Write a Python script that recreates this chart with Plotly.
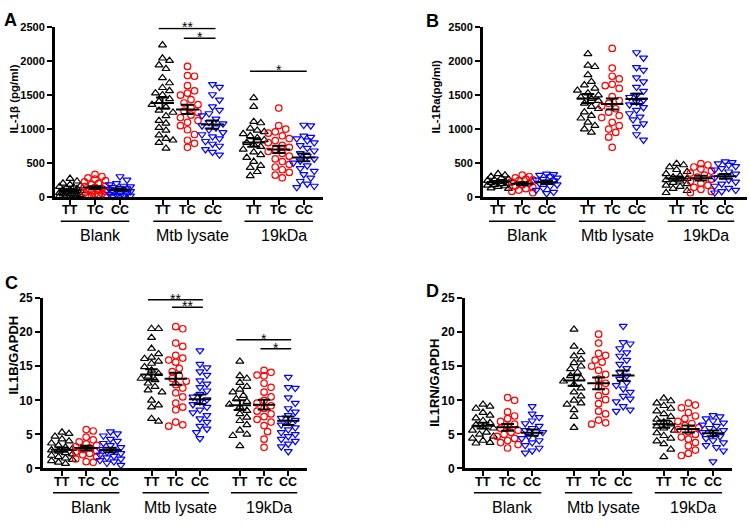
import plotly.graph_objects as go
import numpy as np

# ---------------- data ----------------
genotypes = ["TT", "TC", "CC"]
stimuli = ["Blank", "Mtb lysate", "19kDa"]
panel_letters = ["A", "B", "C", "D"]
y_titles = ["IL-1β (pg/ml)", "IL-1Ra(pg/ml)", "IL1B/GAPDH", "IL1RN/GAPDH"]
y_ticks_ab = [0, 500, 1000, 1500, 2000, 2500]
y_ticks_cd = [0, 5, 10, 15, 20, 25]

# Panel A: IL-1beta (pg/ml)
a_blank_tt = [270, 230, 200, 180, 160, 150, 140, 130, 120, 110, 100, 90, 80, 70, 60, 50, 45, 40, 30, 25, 20, 15, 10, 5]
a_blank_tc = [330, 300, 280, 260, 240, 220, 200, 180, 160, 150, 140, 120, 100, 90, 80, 70, 60, 50, 40, 30, 20, 15, 10]
a_blank_cc = [300, 250, 200, 180, 160, 150, 140, 130, 120, 110, 100, 90, 80, 70, 60, 50, 40, 30, 20, 15, 10, 5]
a_mtb_tt = [2240, 2045, 2010, 1945, 1890, 1755, 1680, 1610, 1565, 1530, 1505, 1445, 1410, 1360, 1325, 1275, 1245, 1195, 1125, 1085, 1020, 980, 910, 860, 835, 800, 715]
a_mtb_tc = [1925, 1790, 1780, 1640, 1565, 1530, 1500, 1435, 1385, 1360, 1315, 1265, 1245, 1205, 1170, 1125, 1100, 1050, 990, 920, 835, 790, 730]
a_mtb_cc = [1660, 1620, 1510, 1430, 1330, 1280, 1230, 1200, 1150, 1100, 1080, 1050, 1020, 990, 950, 920, 890, 860, 820, 780, 750, 700, 660, 620]
a_kda_tt = [1460, 1330, 1110, 1090, 1010, 980, 960, 930, 900, 870, 840, 800, 770, 740, 700, 660, 620, 580, 520, 460, 430, 370, 310]
a_kda_tc = [1310, 1050, 1000, 960, 940, 900, 860, 830, 800, 760, 730, 700, 670, 640, 600, 560, 520, 480, 440, 400, 360, 320, 280]
a_kda_cc = [1060, 1050, 900, 880, 860, 830, 800, 760, 720, 680, 640, 600, 560, 530, 500, 460, 420, 380, 330, 280, 230, 190, 160, 140]

# Panel B: IL-1Ra (pg/ml)
b_blank_tt = [340, 320, 300, 280, 260, 250, 240, 230, 220, 210, 200, 190, 180, 170, 160, 150, 130, 120]
b_blank_tc = [320, 300, 280, 260, 250, 240, 220, 200, 180, 160, 140, 120, 100, 80, 60]
b_blank_cc = [340, 330, 320, 300, 280, 260, 250, 240, 220, 200, 180, 160, 130, 100, 70, 50]
b_mtb_tt = [2110, 1940, 1920, 1800, 1700, 1650, 1600, 1570, 1530, 1500, 1470, 1450, 1420, 1380, 1330, 1300, 1250, 1200, 1160, 1100, 1050, 1000, 950]
b_mtb_tc = [2190, 1900, 1780, 1740, 1660, 1640, 1600, 1480, 1420, 1380, 1340, 1300, 1250, 1200, 1170, 1100, 1050, 1000, 950, 880, 730]
b_mtb_cc = [2130, 2050, 1910, 1870, 1760, 1700, 1620, 1560, 1500, 1470, 1430, 1400, 1360, 1320, 1280, 1230, 1180, 1140, 1080, 1030, 920, 840]
b_kda_tt = [490, 470, 440, 400, 370, 340, 310, 290, 270, 250, 230, 210, 190, 170, 150, 120, 90, 60]
b_kda_tc = [490, 470, 440, 410, 380, 350, 320, 290, 260, 230, 200, 170, 140, 110, 80, 60]
b_kda_cc = [520, 510, 490, 470, 450, 420, 400, 370, 340, 310, 280, 250, 220, 190, 160, 130, 100, 80, 60]

# Panel C: IL1B/GAPDH
c_blank_tt = [5.3, 5.1, 4.7, 4.3, 4.0, 3.7, 3.4, 3.1, 2.9, 2.7, 2.5, 2.3, 2.1, 1.9, 1.7, 1.5, 1.3, 1.1, 0.9, 0.7]
c_blank_tc = [5.7, 5.5, 4.6, 4.2, 3.9, 3.6, 3.4, 3.2, 3.0, 2.8, 2.6, 2.4, 2.2, 2.0, 1.7, 1.4, 1.0, 0.9]
c_blank_cc = [5.4, 5.1, 4.8, 4.3, 4.0, 3.7, 3.4, 3.1, 2.8, 2.6, 2.4, 2.2, 2.0, 1.8, 1.6, 1.4, 1.2, 1.0, 0.8, 0.5]
c_mtb_tt = [20.5, 20.5, 19.2, 17.6, 16.8, 16.3, 16.1, 15.7, 15.4, 14.9, 14.4, 13.9, 13.5, 13.2, 13.0, 12.5, 12.0, 11.5, 11.2, 10.0, 9.3, 9.0, 7.3, 6.9]
c_mtb_tc = [20.8, 20.5, 18.4, 17.9, 16.6, 16.2, 15.9, 15.6, 14.7, 14.2, 13.6, 13.2, 12.8, 12.3, 11.8, 11.1, 10.5, 9.6, 9.0, 8.6, 6.8, 6.4, 6.2]
c_mtb_cc = [17.3, 15.3, 14.8, 14.2, 13.7, 12.9, 12.4, 11.9, 11.4, 10.9, 10.5, 10.1, 9.8, 9.4, 9.0, 8.6, 8.2, 7.8, 7.3, 6.8, 6.2, 5.8, 5.3, 4.4]
c_kda_tt = [15.7, 13.6, 13.2, 12.6, 12.0, 11.6, 11.2, 10.7, 10.2, 9.8, 9.4, 9.0, 8.5, 8.0, 7.5, 7.0, 6.4, 5.6, 5.0, 4.8, 3.3]
c_kda_tc = [14.4, 14.1, 13.7, 13.6, 12.5, 11.9, 11.2, 10.5, 10.0, 9.6, 9.2, 8.8, 8.4, 8.0, 7.6, 7.2, 6.8, 6.3, 5.4, 4.3, 3.1]
c_kda_cc = [13.4, 11.9, 11.8, 10.4, 9.6, 8.8, 8.3, 7.8, 7.4, 7.1, 6.8, 6.4, 6.0, 5.7, 5.3, 5.0, 4.7, 4.3, 4.0, 3.6, 3.2, 2.5]

# Panel D: IL1RN/GAPDH
d_blank_tt = [9.4, 9.1, 8.8, 8.2, 7.8, 7.4, 7.0, 6.7, 6.4, 6.1, 5.9, 5.6, 5.3, 5.0, 4.7, 4.4, 4.1, 3.8, 3.7]
d_blank_tc = [10.4, 10.0, 8.3, 7.7, 7.3, 6.9, 6.5, 6.2, 5.9, 5.6, 5.3, 5.0, 4.7, 4.4, 4.1, 3.8, 3.5, 3.0]
d_blank_cc = [9.1, 8.0, 7.5, 7.0, 6.6, 6.2, 5.9, 5.6, 5.3, 5.0, 4.7, 4.4, 4.1, 3.8, 3.4, 3.0, 2.6, 2.3]
d_mtb_tt = [20.4, 17.9, 17.1, 16.5, 16.0, 15.5, 15.0, 14.6, 14.1, 13.6, 13.2, 12.8, 12.3, 11.8, 11.2, 10.6, 10.0, 9.6, 9.4, 8.6, 7.6, 6.0]
d_mtb_tc = [19.7, 18.4, 16.9, 16.6, 15.9, 15.6, 15.0, 14.4, 13.8, 13.1, 12.5, 12.0, 11.3, 10.7, 10.1, 9.5, 8.4, 8.0, 7.1, 6.7, 6.5]
d_mtb_cc = [20.9, 18.5, 18.3, 17.6, 17.0, 16.5, 15.9, 15.3, 14.7, 14.1, 13.6, 13.1, 12.6, 12.2, 11.7, 11.2, 10.6, 10.2, 9.8, 9.1, 8.6, 8.4]
d_kda_tt = [10.3, 9.9, 9.6, 9.2, 8.8, 8.4, 8.0, 7.6, 7.2, 6.8, 6.5, 6.2, 5.9, 5.6, 5.2, 4.8, 4.4, 4.0, 3.6, 2.8, 1.7]
d_kda_tc = [9.6, 9.3, 8.9, 8.2, 7.7, 7.3, 6.9, 6.6, 6.3, 6.0, 5.7, 5.4, 5.0, 4.6, 4.3, 3.8, 3.3, 2.7, 2.2, 1.9]
d_kda_cc = [7.8, 7.6, 7.3, 7.0, 6.7, 6.4, 6.2, 5.9, 5.6, 5.3, 5.0, 4.7, 4.4, 4.1, 3.8, 3.4, 3.1, 2.6, 1.0]

# significance brackets: (stimulus index, from genotype, to genotype, y value, label)
sig_a = [(1, 0, 2, 2486, "**"), (1, 1, 2, 2342, "*"), (2, 0, 2, 1853, "*")]
sig_b = []
sig_c = [(1, 0, 2, 24.76, "**"), (1, 1, 2, 23.67, "**"), (2, 0, 2, 18.9, "*"), (2, 1, 2, 17.57, "*")]
sig_d = []

panel_data = [
    [a_blank_tt, a_blank_tc, a_blank_cc, a_mtb_tt, a_mtb_tc, a_mtb_cc, a_kda_tt, a_kda_tc, a_kda_cc],
    [b_blank_tt, b_blank_tc, b_blank_cc, b_mtb_tt, b_mtb_tc, b_mtb_cc, b_kda_tt, b_kda_tc, b_kda_cc],
    [c_blank_tt, c_blank_tc, c_blank_cc, c_mtb_tt, c_mtb_tc, c_mtb_cc, c_kda_tt, c_kda_tc, c_kda_cc],
    [d_blank_tt, d_blank_tc, d_blank_cc, d_mtb_tt, d_mtb_tc, d_mtb_cc, d_kda_tt, d_kda_tc, d_kda_cc],
]
panel_sigs = [sig_a, sig_b, sig_c, sig_d]

# ---------------- layout / styling ----------------
W, H = 749, 529
FONT = "Liberation Sans, Arial, sans-serif"
cat_pos = [0, 1, 2, 3.7, 4.7, 5.7, 7.35, 8.35, 9.35]
# (x0, x1, ytop, ybottom, first-category offset px, px per unit, y max)
geom = [
    (55, 323, 21, 195, 15, 25.0, 2500),
    (483, 747, 21, 195, 15, 24.3, 2500),
    (43, 307, 299, 474, 19, 24.2, 25),
    (465, 732, 299, 474, 18, 24.6, 25),
]
letter_pos = [(10, 13), (432, 14), (11, 284), (432, 292)]
ytitle_pos = [(14, 95), (436, 92), (14, 358), (435, 386)]
ytitle_size = [11.5, 11.5, 13, 13]
ytick_size = [11, 11, 12, 12]

styles = [
    dict(symbol="triangle-up-open", color="#000000", size=7),
    dict(symbol="circle-open", color="#ff0000", size=6.5),
    dict(symbol="triangle-down-open", color="#0000ff", size=7),
]


def beeswarm(vals, ypx, xpx, d=7.0, maxoff=11.0, step=3.5):
    """Deterministic horizontal spreading of points (pixel space)."""
    order = np.argsort(-np.asarray(vals, dtype=float), kind="stable")
    placed = []
    offs = [0.0] * len(vals)
    cands = [0.0]
    k = 1
    while k * step <= maxoff + 1e-9:
        cands += [k * step, -k * step]
        k += 1
    for i in order:
        yy = vals[i] * ypx
        best, bestd = 0.0, -1
        for c in cands:
            md = min([np.hypot(c - px, yy - py) for px, py in placed] or [1e9])
            if md >= d:
                best = c
                bestd = md
                break
            if md > bestd:
                bestd, best = md, c
        placed.append((best, yy))
        offs[i] = best / xpx
    return offs


def px_to_paper_x(px):
    return px / W


def px_to_paper_y(py):
    return 1 - py / H


fig = go.Figure()
layout = dict(
    width=W, height=H, margin=dict(l=0, r=0, t=0, b=0),
    paper_bgcolor="white", plot_bgcolor="white", showlegend=False,
    font=dict(family=FONT, color="black"),
)
shapes = []
annotations = []

for p in range(4):
    x0, x1, yt, yb, first, unit, ymax = geom[p]
    xa = "x" if p == 0 else f"x{p+1}"
    ya = "y" if p == 0 else f"y{p+1}"
    xr = [-first / unit, (x1 - x0 - first) / unit]
    ypx = (yb - yt) / ymax
    yticks = y_ticks_ab if ymax == 2500 else y_ticks_cd

    xkey = "xaxis" if p == 0 else f"xaxis{p+1}"
    ykey = "yaxis" if p == 0 else f"yaxis{p+1}"
    layout[xkey] = dict(
        domain=[px_to_paper_x(x0), px_to_paper_x(x1)], range=xr, anchor=ya,
        showgrid=False, zeroline=False, showline=True, linecolor="black", linewidth=3,
        ticks="outside", ticklen=5, tickwidth=2, tickcolor="black",
        tickvals=cat_pos, showticklabels=False, fixedrange=True,
    )
    layout[ykey] = dict(
        domain=[px_to_paper_y(yb), px_to_paper_y(yt)], range=[0, ymax], anchor=xa,
        showgrid=False, zeroline=False, showline=True, linecolor="black", linewidth=3,
        ticks="outside", ticklen=5, tickwidth=2, tickcolor="black",
        tickvals=yticks, ticktext=["<b>%s</b>" % t for t in yticks],
        tickfont=dict(size=ytick_size[p], family=FONT, color="black"), fixedrange=True,
    )

    # points
    for gi, vals in enumerate(panel_data[p]):
        st = styles[gi % 3]
        offs = beeswarm(vals, ypx, unit)
        xs = [cat_pos[gi] + o for o in offs]
        fig.add_trace(go.Scatter(
            x=xs, y=vals, mode="markers", xaxis=xa, yaxis=ya, cliponaxis=False,
            marker=dict(symbol=st["symbol"], size=st["size"], color=st["color"],
                        line=dict(color=st["color"], width=1.2)),
            hoverinfo="skip",
        ))

    # mean +/- SEM
    lx, ly = [], []
    for gi, vals in enumerate(panel_data[p]):
        v = np.asarray(vals, dtype=float)
        m = v.mean()
        sem = v.std(ddof=1) / np.sqrt(len(v))
        c = cat_pos[gi]
        lx += [c - 0.46, c + 0.46, None, c, c, None,
               c - 0.26, c + 0.26, None, c - 0.26, c + 0.26, None]
        ly += [m, m, None, m - sem, m + sem, None,
               m - sem, m - sem, None, m + sem, m + sem, None]
    fig.add_trace(go.Scatter(x=lx, y=ly, mode="lines", xaxis=xa, yaxis=ya,
                             line=dict(color="black", width=2), cliponaxis=False,
                             hoverinfo="skip"))

    # category tick labels
    for gi in range(9):
        annotations.append(dict(xref=xa, yref="paper", x=cat_pos[gi],
                                y=px_to_paper_y(yb + 14), text="<b>%s</b>" % genotypes[gi % 3],
                                showarrow=False, xanchor="center", yanchor="middle",
                                font=dict(size=12.5, family=FONT, color="black")))

    # group lines and labels
    for s in range(3):
        a = cat_pos[3 * s]
        b = cat_pos[3 * s + 2]
        shapes.append(dict(type="line", xref=xa, yref="paper",
                           x0=a - 0.37, x1=b + 0.37,
                           y0=px_to_paper_y(yb + 25), y1=px_to_paper_y(yb + 25),
                           line=dict(color="black", width=1.5)))
        annotations.append(dict(xref=xa, yref="paper", x=cat_pos[3 * s + 1] + 0.2,
                                y=px_to_paper_y(yb + 40), text=stimuli[s], showarrow=False,
                                font=dict(size=16, family=FONT, color="black"),
                                xanchor="center", yanchor="middle"))

    # significance brackets
    for (s, g1, g2, yv, lab) in panel_sigs[p]:
        a = cat_pos[3 * s + g1]
        b = cat_pos[3 * s + g2]
        shapes.append(dict(type="line", xref=xa, yref=ya, x0=a - 0.15, x1=b + 0.12,
                           y0=yv, y1=yv, line=dict(color="black", width=1.5)))
        annotations.append(dict(xref=xa, yref=ya, x=(a + b) / 2, y=yv, text=lab,
                                showarrow=False, yanchor="bottom", yshift=-9,
                                font=dict(size=14, family=FONT, color="black")))

    # panel letter and y title
    lxp, lyp = letter_pos[p]
    annotations.append(dict(xref="paper", yref="paper", x=px_to_paper_x(lxp),
                            y=px_to_paper_y(lyp), text="<b>%s</b>" % panel_letters[p],
                            showarrow=False, xanchor="center", yanchor="middle",
                            font=dict(size=18, family=FONT, color="black")))
    tx, ty = ytitle_pos[p]
    annotations.append(dict(xref="paper", yref="paper", x=px_to_paper_x(tx),
                            y=px_to_paper_y(ty), text="<b>%s</b>" % y_titles[p],
                            showarrow=False, textangle=-90, xanchor="center", yanchor="middle",
                            font=dict(size=ytitle_size[p], family=FONT, color="black")))

layout["shapes"] = shapes
layout["annotations"] = annotations
fig.update_layout(**layout)
fig.write_html("out.html", config={"displayModeBar": False},
               post_script="document.body.style.margin='0px';document.body.style.overflow='hidden';")
